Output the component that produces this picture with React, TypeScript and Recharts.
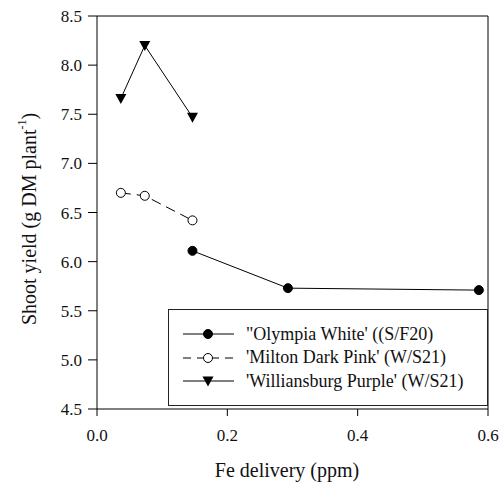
import { LineChart, Line, XAxis, YAxis, Label, ReferenceLine } from "recharts";

// Fe delivery (ppm) and shoot yield (g DM plant-1) per cultivar
const feOlympia = [0.1465, 0.293, 0.586];
const yieldOlympia = [6.11, 5.73, 5.71];
const feMilton = [0.0366, 0.0733, 0.1465];
const yieldMilton = [6.7, 6.67, 6.42];
const feWilliamsburg = [0.0366, 0.0733, 0.1465];
const yieldWilliamsburg = [7.66, 8.2, 7.47];

const seriesNames = [
  "\"Olympia White' ((S/F20)",
  "'Milton Dark Pink' (W/S21)",
  "'Williansburg Purple' (W/S21)",
];

const xTicks = [0, 0.2, 0.4, 0.6];
const yTicks = [4.5, 5.0, 5.5, 6.0, 6.5, 7.0, 7.5, 8.0, 8.5];

const toPoints = (xs: number[], ys: number[]) => xs.map((x, i) => ({ x, y: ys[i] }));

const olympia = toPoints(feOlympia, yieldOlympia);
const milton = toPoints(feMilton, yieldMilton);
const williamsburg = toPoints(feWilliamsburg, yieldWilliamsburg);

const FONT = "'Liberation Serif', serif";
const INK = "#111";

const Triangle = (props: any) => {
  const { cx, cy, index } = props;
  if (cx == null || cy == null) return <g key={index} />;
  return (
    <path
      key={index}
      d={`M${cx - 5.5},${cy - 4.5}L${cx + 5.5},${cy - 4.5}L${cx},${cy + 5.5}Z`}
      fill="#000"
    />
  );
};

const XTick = (props: any) => {
  const { x, y, payload } = props;
  return (
    <text x={x} y={y} dy={12} textAnchor="middle" style={{ fontFamily: FONT }} fontSize={17} fill={INK}>
      {Number(payload.value).toFixed(1)}
    </text>
  );
};

const YTick = (props: any) => {
  const { x, y, payload } = props;
  return (
    <text x={x} y={y} dy={6} textAnchor="end" style={{ fontFamily: FONT }} fontSize={17} fill={INK}>
      {Number(payload.value).toFixed(1)}
    </text>
  );
};

const YTitle = () => (
  <text
    x={29}
    y={219}
    transform="rotate(-90 29 219)"
    textAnchor="middle"
    dominantBaseline="central"
    style={{ fontFamily: FONT }}
    fontSize={20}
    fill={INK}
  >
    Shoot yield (g DM plant
    <tspan dy={-7} fontSize={12}>-1</tspan>
    <tspan dy={7}>)</tspan>
  </text>
);

const XTitle = () => (
  <text x={287} y={477} textAnchor="middle" style={{ fontFamily: FONT }} fontSize={20} fill={INK}>
    Fe delivery (ppm)
  </text>
);

function LegendBox() {
  const rows = [
    { name: seriesNames[0], dash: undefined, marker: "filled" },
    { name: seriesNames[1], dash: "8 6", marker: "open" },
    { name: seriesNames[2], dash: undefined, marker: "tri" },
  ];
  return (
    <div
      style={{
        position: "absolute",
        left: 168,
        top: 309,
        width: 320,
        height: 97,
        border: "1px solid #222",
        boxSizing: "border-box",
        background: "#fff",
        fontFamily: FONT,
        fontSize: 18,
        color: INK,
      }}
    >
      {rows.map((r, i) => (
        <div
          key={i}
          style={{
            position: "absolute",
            left: 13,
            top: 12 + i * 23.5,
            height: 24,
            display: "flex",
            alignItems: "center",
            whiteSpace: "nowrap",
          }}
        >
          <svg width={64} height={24}>
            <line x1={1} x2={52} y1={12} y2={12} stroke="#000" strokeDasharray={r.dash} />
            {r.marker === "tri" ? (
              <path d="M20.5,7.5L31.5,7.5L26,17.5Z" fill="#000" />
            ) : (
              <circle
                cx={26}
                cy={12}
                r={4.5}
                fill={r.marker === "open" ? "#fff" : "#000"}
                stroke="#000"
              />
            )}
          </svg>
          <span style={{ fontFamily: FONT }}>{r.name}</span>
        </div>
      ))}
    </div>
  );
}

export default function App() {
  return (
    <div
      style={{
        position: "absolute",
        left: 0,
        top: 0,
        width: 499,
        height: 491,
        background: "#fff",
        fontFamily: FONT,
      }}
    >
      <LineChart
        width={499}
        height={491}
        margin={{ top: 16, right: 11, bottom: 42, left: 37 }}
      >
        <XAxis
          dataKey="x"
          type="number"
          domain={[0, 0.6]}
          ticks={xTicks}
          height={40}
          tickSize={7}
          tickMargin={13}
          stroke="#000"
          tick={XTick}
          allowDataOverflow
        >
          <Label content={XTitle} />
        </XAxis>
        <YAxis
          type="number"
          domain={[4.5, 8.5]}
          ticks={yTicks}
          width={60}
          tickSize={9}
          tickMargin={6}
          stroke="#000"
          tick={YTick}
          allowDataOverflow
        >
          <Label content={YTitle} />
        </YAxis>
        <ReferenceLine y={8.5} stroke="#000" strokeWidth={1} />
        <ReferenceLine x={0.6} stroke="#000" strokeWidth={1} />
        <Line
          data={olympia}
          dataKey="y"
          name={seriesNames[0]}
          type="linear"
          stroke="#000"
          strokeWidth={1}
          dot={{ r: 4.5, fill: "#000", stroke: "#000", strokeWidth: 1 }}
          isAnimationActive={false}
        />
        <Line
          data={milton}
          dataKey="y"
          name={seriesNames[1]}
          type="linear"
          stroke="#000"
          strokeWidth={1}
          strokeDasharray="10 6"
          dot={{ r: 4.5, fill: "#fff", stroke: "#000", strokeWidth: 1, strokeDasharray: "" }}
          isAnimationActive={false}
        />
        <Line
          data={williamsburg}
          dataKey="y"
          name={seriesNames[2]}
          type="linear"
          stroke="#000"
          strokeWidth={1}
          dot={Triangle}
          isAnimationActive={false}
        />
      </LineChart>
      <LegendBox />
    </div>
  );
}
